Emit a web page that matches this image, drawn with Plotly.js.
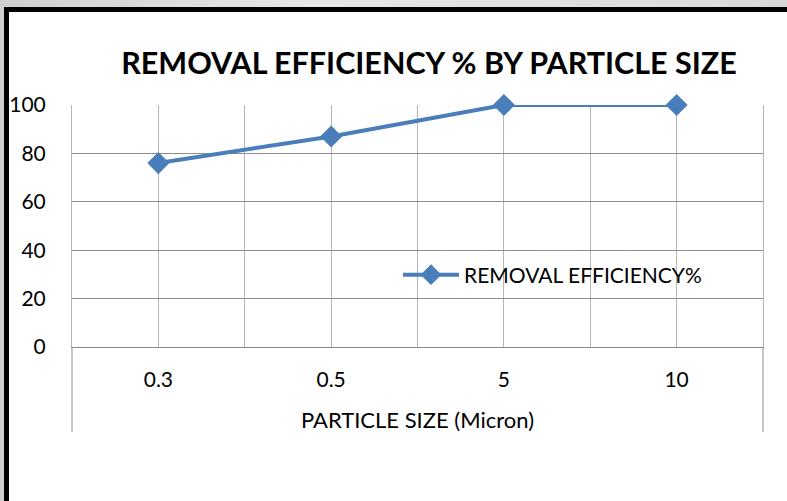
<!DOCTYPE html>
<html>
<head>
<meta charset="utf-8">
<script src="https://cdn.plot.ly/plotly-3.0.1.min.js"></script>
<style>
  html, body { margin: 0; padding: 0; }
  #wrap { position: relative; width: 787px; height: 501px; overflow: hidden;
          background: linear-gradient(to right, #cfcfcf, #e6e6e6 40%, #d8d8d8); }
  #frame { position: absolute; left: 4px; top: 7px; right: -10px; bottom: -10px;
           background: #ffffff; border-left: 5px solid #000; border-top: 5px solid #000; }
  #chart { position: absolute; left: 0; top: 0; width: 787px; height: 501px; }
</style>
</head>
<body>
<div id="wrap">
  <div id="frame"></div>
  <div id="chart"></div>
</div>
<script>
const categories = ["0.3", "0.5", "5", "10"];
const efficiency = [76, 87, 100, 100];
const seriesName = "REMOVAL EFFICIENCY%";
const yTicks = [0, 20, 40, 60, 80, 100];

const idx = categories.map((c, i) => i);
const bounds = categories.map((c, i) => i - 0.5).concat([categories.length - 0.5]);

const trace = {
  x: idx,
  y: efficiency,
  type: "scatter",
  mode: "lines+markers",
  name: seriesName,
  cliponaxis: false,
  line: { color: "#4A7EBB", width: 4 },
  marker: { symbol: "diamond", size: 17, color: "#4A7EBB" },
  hoverinfo: "skip"
};

const fontFam = "Lato, 'Liberation Sans', sans-serif";

const layout = {
  width: 787, height: 501,
  paper_bgcolor: "rgba(0,0,0,0)",
  plot_bgcolor: "rgba(0,0,0,0)",
  margin: { l: 72, r: 24, t: 105, b: 154, pad: 0 },
  font: { family: fontFam, color: "#000000", size: 21 },
  showlegend: true,
  title: {
    text: "<b>REMOVAL EFFICIENCY % BY PARTICLE SIZE</b>",
    font: { family: fontFam, size: 30.5, color: "#000000" },
    x: 429 / 787, xref: "container", xanchor: "center",
    y: 1 - 63 / 501, yref: "container", yanchor: "middle"
  },
  xaxis: {
    range: [-0.5, categories.length - 0.5],
    tickmode: "array",
    tickvals: idx,
    ticktext: categories,
    showgrid: true, gridcolor: "#b5b5b5", gridwidth: 1,
    minor: { tickmode: "array", tickvals: bounds, showgrid: true, gridcolor: "#b5b5b5", gridwidth: 1, ticks: "" },
    showline: true, linecolor: "#898989", linewidth: 1,
    zeroline: false,
    ticks: "", ticklabelstandoff: 14,
    tickfont: { size: 21, family: fontFam },
    title: { text: "PARTICLE SIZE (Micron)", font: { size: 22, family: fontFam }, standoff: 22 },
    fixedrange: true
  },
  yaxis: {
    range: [0, 100],
    tickmode: "array",
    tickvals: yTicks,
    showgrid: true, gridcolor: "#8c8c8c", gridwidth: 1,
    showline: true, linecolor: "#b5b5b5", linewidth: 1, mirror: true,
    zeroline: false,
    ticks: "", ticklabelstandoff: 21,
    tickfont: { size: 21, family: fontFam },
    fixedrange: true
  },
  legend: {
    x: (398 - 72) / 691, xanchor: "left",
    y: (347 - 275) / 242, yanchor: "middle",
    bgcolor: "rgba(0,0,0,0)",
    borderwidth: 0,
    itemwidth: 56,
    font: { size: 21, family: fontFam }
  },
  shapes: [
    { type: "line", xref: "paper", yref: "paper", x0: 0, x1: 0, y0: 0, y1: -85 / 242, line: { color: "#8c8c8c", width: 1 } },
    { type: "line", xref: "paper", yref: "paper", x0: 1, x1: 1, y0: 0, y1: -85 / 242, line: { color: "#8c8c8c", width: 1 } }
  ]
};

Plotly.newPlot("chart", [trace], layout, { staticPlot: true, displayModeBar: false });
</script>
</body>
</html>
